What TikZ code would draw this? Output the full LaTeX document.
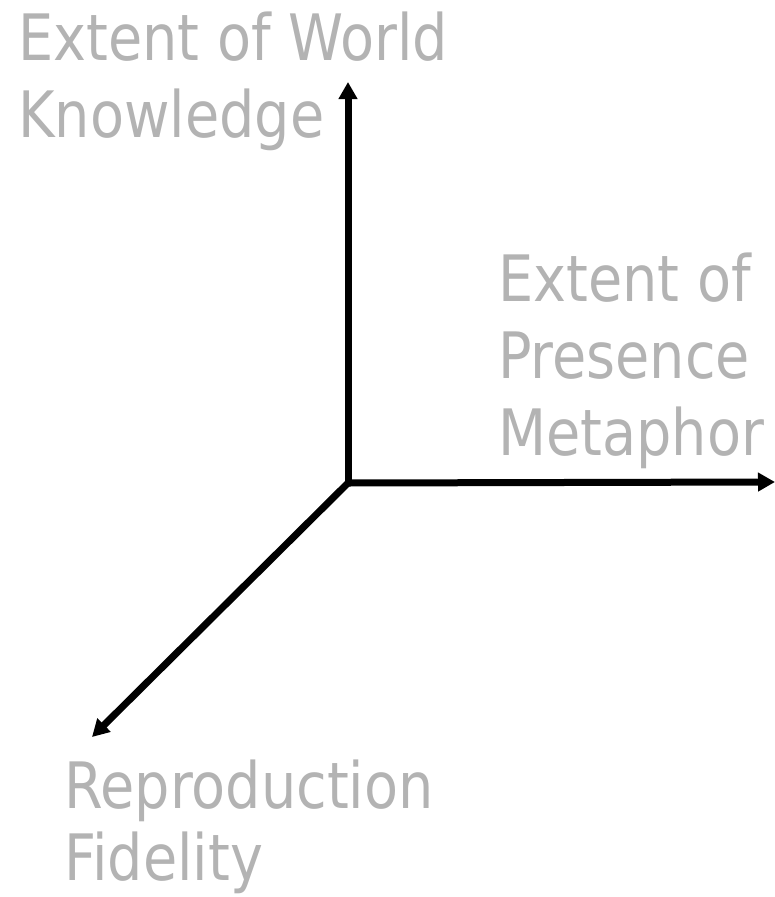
\documentclass[tikz,border=0pt]{standalone}
\usepackage{fontspec}
\setmainfont{DejaVu Sans}[FakeStretch=0.87]
\usetikzlibrary{arrows.meta}
\definecolor{labelgray}{HTML}{B3B3B3}
\begin{document}
\begin{tikzpicture}[x=1pt,y=-1pt,
  axis/.style={line width=7pt,-{Triangle[length=17pt,width=18pt]}},
  lbl/.style={text=labelgray,inner sep=0pt,align=left,anchor=base west,
    font=\fontsize{64}{77}\selectfont}]
\useasboundingbox (0,0) rectangle (775,897);
\coordinate (O) at (348,483);
\coordinate (up) at (348,82);
\coordinate (rt) at (775,482);
\coordinate (dl) at (92,737);
\draw[axis] (O) -- (up);
\draw[axis] (O) -- (rt);
\draw[axis] (O) -- (dl);
\node[lbl] (wk) at (18,137) {Extent of World\\Knowledge};
\node[lbl] (pm) at (498,455) {Extent of\\Presence\\Metaphor};
\node[lbl, font=\fontsize{64}{72}\selectfont] (rf) at (64,880) {Reproduction\\Fidelity};
\end{tikzpicture}
\end{document}
